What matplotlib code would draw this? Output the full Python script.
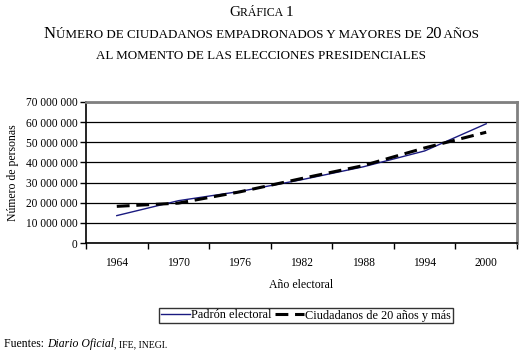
import matplotlib
matplotlib.use("Agg")
import matplotlib.pyplot as plt
from matplotlib.ticker import FuncFormatter, FixedLocator

plt.rcParams['font.family'] = ['Liberation Serif', 'DejaVu Serif']

years = ['1964', '1970', '1976', '1982', '1988', '1994', '2000']
padron = [13.6e6, 21.0e6, 25.6e6, 31.4e6, 37.8e6, 45.7e6, 59.2e6]
ciudadanos = [18.2e6, 19.8e6, 25.4e6, 32.0e6, 38.4e6, 47.2e6, 55.0e6]


def small_caps(fig, y, text, big, small, x=0.5):
    # small caps by gluing pieces of two sizes, centred on x
    pieces = []
    for ch in text:
        size = small if (ch.islower() or ch == ' ') else big
        if pieces and pieces[-1][1] == size:
            pieces[-1][0] += ch.upper()
        else:
            pieces.append([ch.upper(), size])
    r = fig.canvas.get_renderer()
    arts = []
    total = 0
    for s, size in pieces:
        t = fig.text(0, y, s, fontsize=size, va='baseline')
        w = t.get_window_extent(renderer=r).width
        arts.append((t, w))
        total += w
    W = fig.bbox.width
    x0 = x * W - total / 2
    for t, w in arts:
        t.set_x(x0 / W)
        x0 += w


fig = plt.figure(figsize=(5.23, 3.53), dpi=100)
ax = fig.add_axes([86 / 523, 1 - 243 / 353, 431 / 523, 141 / 353])

x = list(range(len(years)))
ax.plot(x, padron, color='#1a1a80', linewidth=1.0, label='Padrón electoral')
ax.plot(x, ciudadanos, color='black', linewidth=2.2, dashes=(4.2, 2.2),
        label='Ciudadanos de 20 años y más')

ax.set_xlim(-0.5, 6.5)
ax.set_ylim(0, 70e6)
ax.set_yticks([i * 10e6 for i in range(8)])
ax.yaxis.set_major_formatter(FuncFormatter(lambda v, p: f'{int(v):,}'.replace(',', ' ')))
ax.grid(axis='y', color='black', linewidth=0.9)
ax.set_axisbelow(True)

ax.xaxis.set_major_locator(FixedLocator([i - 0.5 for i in range(8)]))
ax.set_xticklabels([])
ax.set_xticks(x, years, minor=True)
ax.tick_params(axis='x', which='major', direction='out', length=4, width=1, color='black')
ax.tick_params(axis='x', which='minor', length=0, pad=10, labelsize=8.3)
ax.tick_params(axis='y', direction='out', length=4, width=1, labelsize=8.3, pad=2)

for side in ['top', 'right']:
    ax.spines[side].set_color('#808080')
    ax.spines[side].set_linewidth(2)
ax.spines['left'].set_linewidth(1.2)
ax.spines['bottom'].set_linewidth(1.2)

ax.set_ylabel('Número de personas', fontsize=8.5, labelpad=5)
ax.set_xlabel('Año electoral', fontsize=8.5, labelpad=7)

leg = fig.legend(loc='center', bbox_to_anchor=(306 / 523, 1 - 315.5 / 353), ncol=2,
                 fontsize=8.8, frameon=True, fancybox=False, edgecolor='black',
                 handlelength=2.4, handletextpad=0.05, columnspacing=0.3,
                 borderpad=0.15, borderaxespad=0)
leg.get_frame().set_linewidth(1.0)

fig.canvas.draw()
small_caps(fig, 1 - 16 / 353, 'Gráfica 1', 11, 8.5)
small_caps(fig, 1 - 38 / 353, 'Número de ciudadanos empadronados y mayores de 20 años', 12, 9.4)
small_caps(fig, 1 - 59 / 353, 'al momento de las elecciones presidenciales', 12, 9.4)

r = fig.canvas.get_renderer()
t1 = fig.text(4 / 523, 1 - 347 / 353, 'Fuentes: ', fontsize=8.5, va='baseline')
x1 = 4 + t1.get_window_extent(renderer=r).width
t2 = fig.text(x1 / 523, 1 - 347 / 353, 'Diario Oficial', fontsize=8.5, style='italic', va='baseline')
x2 = x1 + t2.get_window_extent(renderer=r).width
fig.text(x2 / 523, 1 - 347 / 353, ', IFE, INEGI.', fontsize=7, va='baseline')

fig.savefig('out.png', dpi=100)
